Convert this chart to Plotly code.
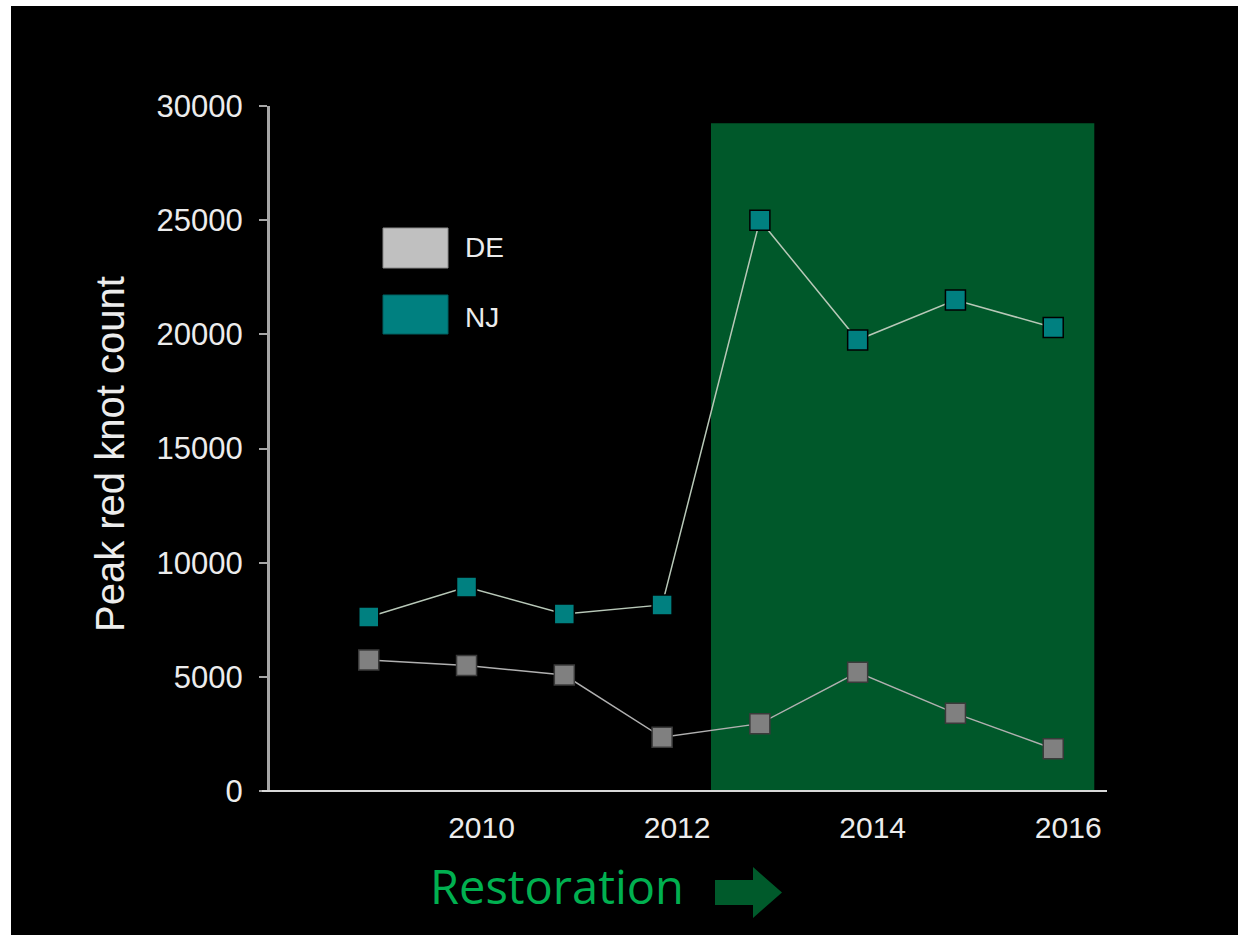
import plotly.graph_objects as go

# data
years = [2009, 2010, 2011, 2012, 2013, 2014, 2015, 2016]
de_counts = [5740, 5500, 5080, 2350, 2950, 5200, 3400, 1850]
nj_counts = [7620, 8930, 7750, 8150, 25000, 19750, 21500, 20300]

y_ticks = [0, 5000, 10000, 15000, 20000, 25000, 30000]
x_ticks = [2010, 2012, 2014, 2016]

# restoration period shading
restoration_start = 2012.5
restoration_end = 2016.42
restoration_top = 29250

W, H = 1238, 935
L, R, T, B = 270, 131, 106, 144
PW, PH = W - L - R, H - T - B


def px(x):
    return (x - L) / PW


def py(y):
    return (H - B - y) / PH


fig = go.Figure()
fig.add_trace(go.Scatter(
    x=years, y=de_counts, name="DE", mode="lines+markers",
    line=dict(color="#b0b0b0", width=1.5),
    marker=dict(symbol="square", size=20, color="#808080", line=dict(color="#3a3a3a", width=1.5)),
))
fig.add_trace(go.Scatter(
    x=years, y=nj_counts, name="NJ", mode="lines+markers",
    line=dict(color="#b8c8b8", width=1.5),
    marker=dict(symbol="square", size=20, color="#008080", line=dict(color="#000000", width=1.5)),
))

shapes = [
    # black slide background (white edge left/top like the screenshot)
    dict(type="rect", xref="paper", yref="paper", x0=px(11), x1=px(W + 20), y0=py(H + 20), y1=py(6),
         fillcolor="black", line_width=0, layer="below"),
    dict(type="rect", xref="x", yref="y", x0=restoration_start, x1=restoration_end, y0=0, y1=restoration_top,
         fillcolor="#00582a", line_width=0, layer="below"),
    # x axis line sticks out left of y axis
    dict(type="line", xref="paper", yref="paper", x0=px(262), x1=1, y0=0, y1=0,
         line=dict(color="#d9d9d9", width=2)),
    # legend swatches
    dict(type="rect", xref="paper", yref="paper", x0=px(383), x1=px(448), y0=py(268), y1=py(228),
         fillcolor="#c0c0c0", line=dict(color="#8a8a8a", width=1)),
    dict(type="rect", xref="paper", yref="paper", x0=px(383), x1=px(448), y0=py(334), y1=py(295),
         fillcolor="#008080", line=dict(color="#006060", width=1)),
    # arrow next to Restoration
    dict(type="path", xref="paper", yref="paper", fillcolor="#005a2b", line_width=0,
         path="M {} {} L {} {} L {} {} L {} {} L {} {} L {} {} L {} {} Z".format(
             px(715), py(880), px(753), py(880), px(753), py(867), px(782), py(892.5),
             px(753), py(918), px(753), py(905), px(715), py(905))),
]

annotations = [
    dict(text="Peak red knot count", xref="paper", yref="paper", x=px(110), y=py(454),
         xanchor="center", yanchor="middle",
         textangle=-90, showarrow=False, font=dict(family="Liberation Sans", size=40, color="#ececec")),
    dict(text="DE", xref="paper", yref="paper", x=px(463), y=py(247), xanchor="left", yanchor="middle",
         showarrow=False, font=dict(family="Liberation Sans", size=28, color="#ececec")),
    dict(text="NJ", xref="paper", yref="paper", x=px(463), y=py(317), xanchor="left", yanchor="middle",
         showarrow=False, font=dict(family="Liberation Sans", size=28, color="#ececec")),
    dict(text="Restoration", xref="paper", yref="paper", x=px(428), y=py(886), xanchor="left", yanchor="middle",
         showarrow=False, font=dict(family="Open Sans", size=47, color="#00b050")),
]

fig.update_layout(
    width=W, height=H,
    margin=dict(l=L, r=R, t=T, b=B, pad=0),
    paper_bgcolor="white", plot_bgcolor="rgba(0,0,0,0)",
    showlegend=False,
    shapes=shapes, annotations=annotations,
    font=dict(family="Liberation Sans", color="#ececec"),
)
fig.update_xaxes(
    range=[2007.99, 2016.55], tickvals=x_ticks, ticktext=[str(v) for v in x_ticks],
    showgrid=False, zeroline=False, showline=False, ticks="",
    tickfont=dict(size=30, color="#ececec"), ticklabelshift=15, ticklabelstandoff=16,
)
fig.update_yaxes(
    range=[0, 30000], tickvals=y_ticks, ticktext=[str(v) for v in y_ticks],
    showgrid=False, zeroline=False, showline=True, linecolor="#a6a6a6", linewidth=3,
    ticks="outside", ticklen=8, tickwidth=2, tickcolor="#a6a6a6",
    tickfont=dict(size=31, color="#ececec"), ticklabelstandoff=10,
)

fig.write_html(
    "out.html",
    config={"displayModeBar": False},
    post_script="document.body.style.margin='0';document.body.style.overflow='hidden';",
)
